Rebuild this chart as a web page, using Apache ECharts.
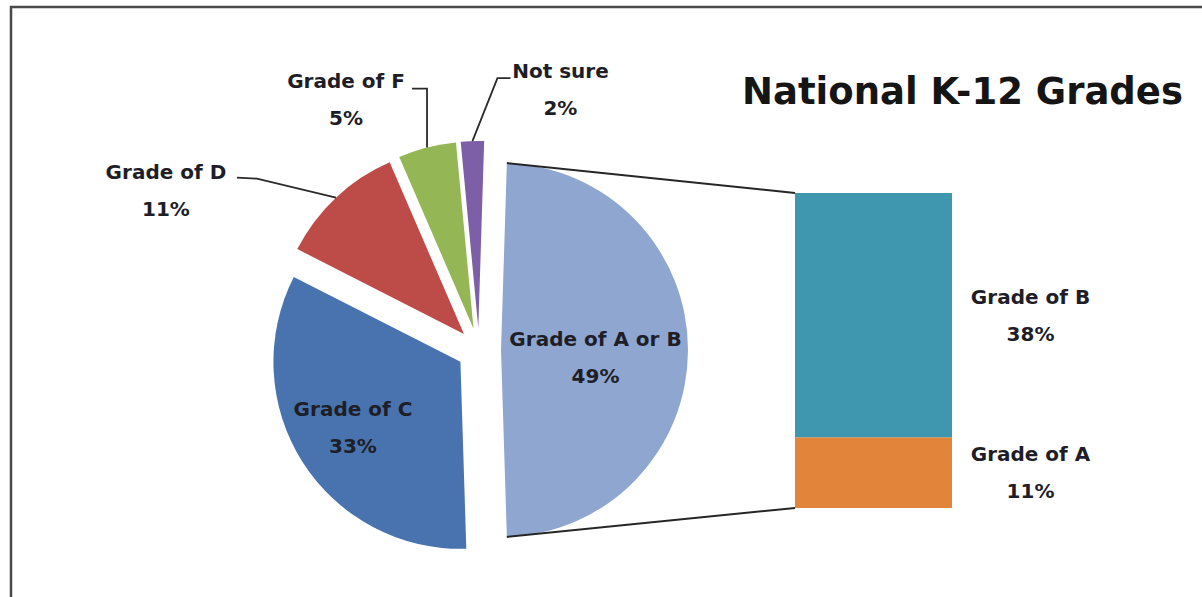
<!DOCTYPE html>
<html>
<head>
<meta charset="utf-8">
<script src="https://cdn.jsdelivr.net/npm/echarts@6/dist/echarts.min.js"></script>
<style>
  html, body { margin: 0; padding: 0; background: #ffffff; }
  #chart { width: 1202px; height: 597px; }
</style>
</head>
<body>
<div id="chart"></div>
<script>
// ---------- data ----------
const chartTitle = 'National K-12 Grades';
const pieNames = ['Grade of A or B', 'Grade of C', 'Grade of D', 'Grade of F', 'Not sure'];
const pieValues = [49, 33, 11, 5, 2];
const barNames = ['Grade of A', 'Grade of B'];
const barValues = [11, 38];

// ---------- style / layout ----------
const pieColors = ['#8FA6D0', '#4873AF', '#BD4B48', '#95B655', '#7C5FA6'];
const barColors = ['#E3843B', '#3E97AF'];
const textColor = '#1e1e28';
const FONT = 'DejaVu Sans';
const LABEL_SIZE = 20;
const LINE_H = 37;
const PIE_CX = 479, PIE_CY = 350, PIE_R = 187, PIE_OFF = 22;
const BAR_LEFT = 795, BAR_WIDTH = 157, BAR_TOP = 193, BAR_BOTTOM = 89;

const pieSum = pieValues.reduce((a, b) => a + b, 0);
const barSum = barValues.reduce((a, b) => a + b, 0);
const startDeg = (pieValues[0] / pieSum) * 360 / 2;

// outside label placement relative to the slice's outer mid-arc point
const outsidePlacement = {
  2: { dx: -170, dy: -7, line: [[-79, -19], [-99, -20]] },
  3: { dx: -81, dy: -48, line: [[0, -59], [-15, -59]] },
  4: { dx: 88, dy: -52, line: [[25, -63], [38, -63]] }
};
const insideShift = { 0: { dx: -2, dy: 7 }, 1: { dx: -26, dy: 14 } };

function sliceAngles(i) {
  let cum = 0;
  for (let k = 0; k < i; k++) cum += pieValues[k];
  const a0 = -startDeg * Math.PI / 180 + cum / pieSum * Math.PI * 2;
  const a1 = a0 + pieValues[i] / pieSum * Math.PI * 2;
  return [a0, a1, (a0 + a1) / 2];
}

const chart = echarts.init(document.getElementById('chart'), null, { renderer: 'svg' });

const pieData = pieNames.map((n, i) => {
  const item = { name: n, value: pieValues[i], selected: true, itemStyle: { color: pieColors[i] } };
  if (outsidePlacement[i]) {
    item.label = { show: false };
  }
  return item;
});

const option = {
  animation: false,
  backgroundColor: '#ffffff',
  title: {
    text: chartTitle,
    left: 737,
    top: 68,
    textStyle: { fontFamily: FONT, fontWeight: 'bold', fontSize: 37, color: '#151515' }
  },
  grid: { left: BAR_LEFT, width: BAR_WIDTH, top: BAR_TOP, bottom: BAR_BOTTOM },
  xAxis: { type: 'category', data: [''], show: false },
  yAxis: { type: 'value', min: 0, max: barSum, show: false },
  series: [
    {
      type: 'pie',
      center: [PIE_CX, PIE_CY],
      radius: PIE_R,
      startAngle: startDeg,
      clockwise: true,
      selectedMode: 'multiple',
      selectedOffset: PIE_OFF,
      avoidLabelOverlap: false,
      emphasis: { disabled: true },
      select: { itemStyle: { borderWidth: 0 } },
      label: {
        show: true,
        position: 'inside',
        formatter: '{b}\n{c}%',
        fontFamily: FONT,
        fontWeight: 'bold',
        fontSize: LABEL_SIZE,
        lineHeight: LINE_H,
        color: textColor,
        align: 'center'
      },
      labelLine: { show: false },
      labelLayout: function (p) {
        const s = insideShift[p.dataIndex];
        return s ? { dx: s.dx, dy: s.dy } : {};
      },
      data: pieData
    },
    ...barNames.map((n, i) => ({
      type: 'bar',
      name: n,
      stack: 'ab',
      barWidth: '100%',
      barCategoryGap: 0,
      emphasis: { disabled: true },
      itemStyle: { color: barColors[i] },
      label: {
        show: true,
        position: ['150%', '50%'],
        align: 'center',
        verticalAlign: 'middle',
        formatter: '{a}\n{c}%',
        fontFamily: FONT,
        fontWeight: 'bold',
        fontSize: LABEL_SIZE,
        lineHeight: LINE_H,
        color: textColor
      },
      data: [barValues[i]]
    }))
  ]
};
chart.setOption(option);

// ---------- computed overlays ----------
const graphics = [];

// outside labels with leader lines for the small slices
Object.keys(outsidePlacement).forEach(key => {
  const i = +key;
  const pl = outsidePlacement[i];
  const mid = sliceAngles(i)[2];
  const ax = PIE_CX + (PIE_R + PIE_OFF) * Math.cos(mid);
  const ay = PIE_CY + (PIE_R + PIE_OFF) * Math.sin(mid);
  graphics.push({
    type: 'polyline',
    shape: { points: [[ax, ay], [ax + pl.line[0][0], ay + pl.line[0][1]], [ax + pl.line[1][0], ay + pl.line[1][1]]] },
    style: { stroke: '#2a2a2a', lineWidth: 1.8, fill: null },
    z: 10, silent: true
  });
  graphics.push({
    type: 'text',
    x: ax + pl.dx,
    y: ay + pl.dy,
    style: {
      text: pieNames[i] + '\n' + pieValues[i] + '%',
      font: 'bold ' + LABEL_SIZE + 'px "' + FONT + '"',
      fill: textColor,
      align: 'center', verticalAlign: 'middle',
      textAlign: 'center', textVerticalAlign: 'middle',
      lineHeight: LINE_H
    },
    z: 10, silent: true
  });
});

// connector lines from the exploded "A or B" slice edges to the bar corners
const [a0, a1, m0] = sliceAngles(0);
const vx = PIE_CX + PIE_OFF * Math.cos(m0), vy = PIE_CY + PIE_OFF * Math.sin(m0);
const pTop = [vx + PIE_R * Math.cos(a0), vy + PIE_R * Math.sin(a0)];
const pBot = [vx + PIE_R * Math.cos(a1), vy + PIE_R * Math.sin(a1)];
const barTopY = chart.convertToPixel({ yAxisIndex: 0 }, barSum);
const barBotY = chart.convertToPixel({ yAxisIndex: 0 }, 0);
const barX = chart.convertToPixel({ xAxisIndex: 0 }, 0) - BAR_WIDTH / 2;
graphics.push(
  { type: 'line', shape: { x1: pTop[0], y1: pTop[1], x2: barX, y2: barTopY }, style: { stroke: '#262626', lineWidth: 2 }, z: 10, silent: true },
  { type: 'line', shape: { x1: pBot[0], y1: pBot[1], x2: barX, y2: barBotY }, style: { stroke: '#262626', lineWidth: 2 }, z: 10, silent: true },
  { type: 'rect', shape: { x: 11, y: 7, width: 1400, height: 800 }, style: { fill: 'none', stroke: '#4a4a4a', lineWidth: 2.5 }, z: 20, silent: true }
);

chart.setOption({ graphic: graphics });
</script>
</body>
</html>
